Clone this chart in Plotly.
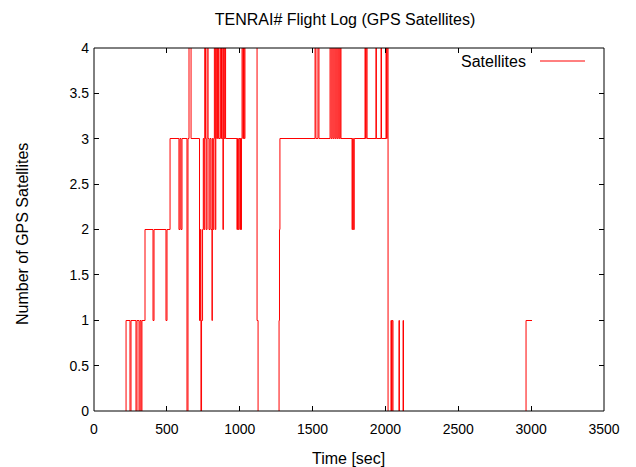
import plotly.graph_objects as go

# Flight log: time (sec) and number of GPS satellites (step data)
time_sec = [0, 220, 247, 254, 288, 295, 309, 316, 323, 329, 350, 405, 412, 494, 501, 522,
            583, 590, 597, 604, 638, 645, 652, 666,
            724, 730, 734, 738, 745, 750, 755, 760, 765, 770, 776, 783, 789, 796, 803,
            810, 812, 817, 822, 826, 832, 836, 842, 848, 855, 865, 870, 875, 880, 885,
            888, 893, 898, 903,
            981, 985, 990, 995, 1002, 1005, 1009, 1012, 1016, 1022, 1026, 1031, 1036,
            1119, 1126, 1270, 1273, 1276, 1517, 1523, 1537, 1544,
            1620, 1627, 1634, 1641, 1648, 1655, 1662, 1669, 1676, 1683, 1690, 1695,
            1771, 1775, 1780, 1786, 1791, 1860, 1864, 1868, 1874, 1935, 1938, 1970, 1973,
            2004, 2008, 2012, 2018, 2038, 2042, 2046, 2052, 2093, 2096, 2121, 2124,
            2965, 3006]
satellites = [0, 1, 0, 1, 0, 1, 0, 1, 0, 1, 2, 1, 2, 1, 2, 3,
              2, 3, 2, 3, 0, 3, 4, 3,
              1, 2, 0, 1, 2, 3, 2, 4, 3, 2, 4, 3, 2, 3, 2,
              1, 3, 2, 3, 4, 2, 4, 3, 4, 3, 4, 3, 4, 3, 2,
              4, 3, 4, 3,
              2, 3, 2, 3, 2, 3, 2, 3, 4, 3, 4, 3, 4,
              1, 0, 1, 2, 3, 4, 3, 4, 3,
              4, 3, 4, 3, 4, 3, 4, 3, 4, 3, 4, 3,
              2, 3, 2, 3, 3, 4, 3, 4, 3, 4, 3, 4, 3,
              4, 3, 4, 0, 1, 0, 1, 0, 1, 0, 1, 0,
              1, 1]

x_ticks = [0, 500, 1000, 1500, 2000, 2500, 3000, 3500]
y_ticks = [0, 0.5, 1, 1.5, 2, 2.5, 3, 3.5, 4]
y_tick_labels = ["0", "0.5", "1", "1.5", "2", "2.5", "3", "3.5", "4"]

FONT = "Liberation Sans"
L, R, T, B = 94, 604, 48, 411
W, H = 636, 467
PH = B - T  # plot height in px

# data axis range nudged by half a pixel each side so that the 0 and 4 levels
# sit exactly under the frame (hidden, as gnuplot's border covers them)
span = 4 * PH / (PH + 1)
ymin = 0.5 * span / PH
ymax = ymin + span

fig = go.Figure()
# empty trace so the tick-carrying axis (y) gets drawn
fig.add_trace(go.Scatter(x=[], y=[], mode="lines", yaxis="y", showlegend=False,
                         hoverinfo="skip"))
fig.add_trace(go.Scatter(x=time_sec, y=satellites, mode="lines", yaxis="y2",
                         line=dict(color="#ff0000", width=1, shape="hv"),
                         name="Satellites", showlegend=False))

axis_common = dict(showline=False, mirror="ticks",
                   ticks="inside", ticklen=5, tickcolor="black", tickwidth=1,
                   showgrid=False, zeroline=False,
                   tickfont=dict(family=FONT, size=14, color="black"))

fig.update_layout(
    width=W, height=H,
    margin=dict(l=L, r=W - R, t=T, b=H - B),
    paper_bgcolor="white", plot_bgcolor="white",
    title=dict(text="TENRAI# Flight Log (GPS Satellites)", x=345 / W, xanchor="center",
               y=1 - 19 / H, yanchor="middle", yref="container",
               font=dict(family=FONT, size=16, color="black")),
    xaxis=dict(range=[0, 3500], tickvals=x_ticks, ticklabelstandoff=8, **axis_common),
    yaxis=dict(range=[0, 4], tickvals=y_ticks, ticktext=y_tick_labels,
               ticklabelstandoff=4, **axis_common),
    yaxis2=dict(range=[ymin, ymax], overlaying="y", visible=False,
                showgrid=False, zeroline=False),
)

# plot frame drawn above the data, like gnuplot's border
fig.add_shape(type="rect", xref="paper", yref="paper", x0=0, x1=1, y0=0, y1=1,
              line=dict(color="black", width=1), layer="above")

# axis titles
fig.add_annotation(text="Time [sec]", xref="paper", yref="paper",
                   x=(348 - L) / (R - L), y=-(458 - B) / PH,
                   xanchor="center", yanchor="middle", showarrow=False,
                   font=dict(family=FONT, size=16, color="black"))
fig.add_annotation(text="Number of GPS Satellites", xref="paper", yref="paper",
                   x=-(L - 22) / (R - L), y=(B - 234) / PH, textangle=-90,
                   xanchor="center", yanchor="middle", showarrow=False,
                   font=dict(family=FONT, size=16, color="black"))

# gnuplot-style key: text then line sample, top-right
fig.add_annotation(text="Satellites", xref="paper", yref="paper", x=(528 - L) / (R - L),
                   y=(B - 61) / PH, xanchor="right", yanchor="middle", showarrow=False,
                   font=dict(family=FONT, size=16, color="black"))
fig.add_shape(type="line", xref="paper", yref="paper",
              x0=(540 - L) / (R - L), x1=(585 - L) / (R - L),
              y0=(B - 61) / PH, y1=(B - 61) / PH,
              line=dict(color="#ff0000", width=1))

fig.write_html("out.html")
